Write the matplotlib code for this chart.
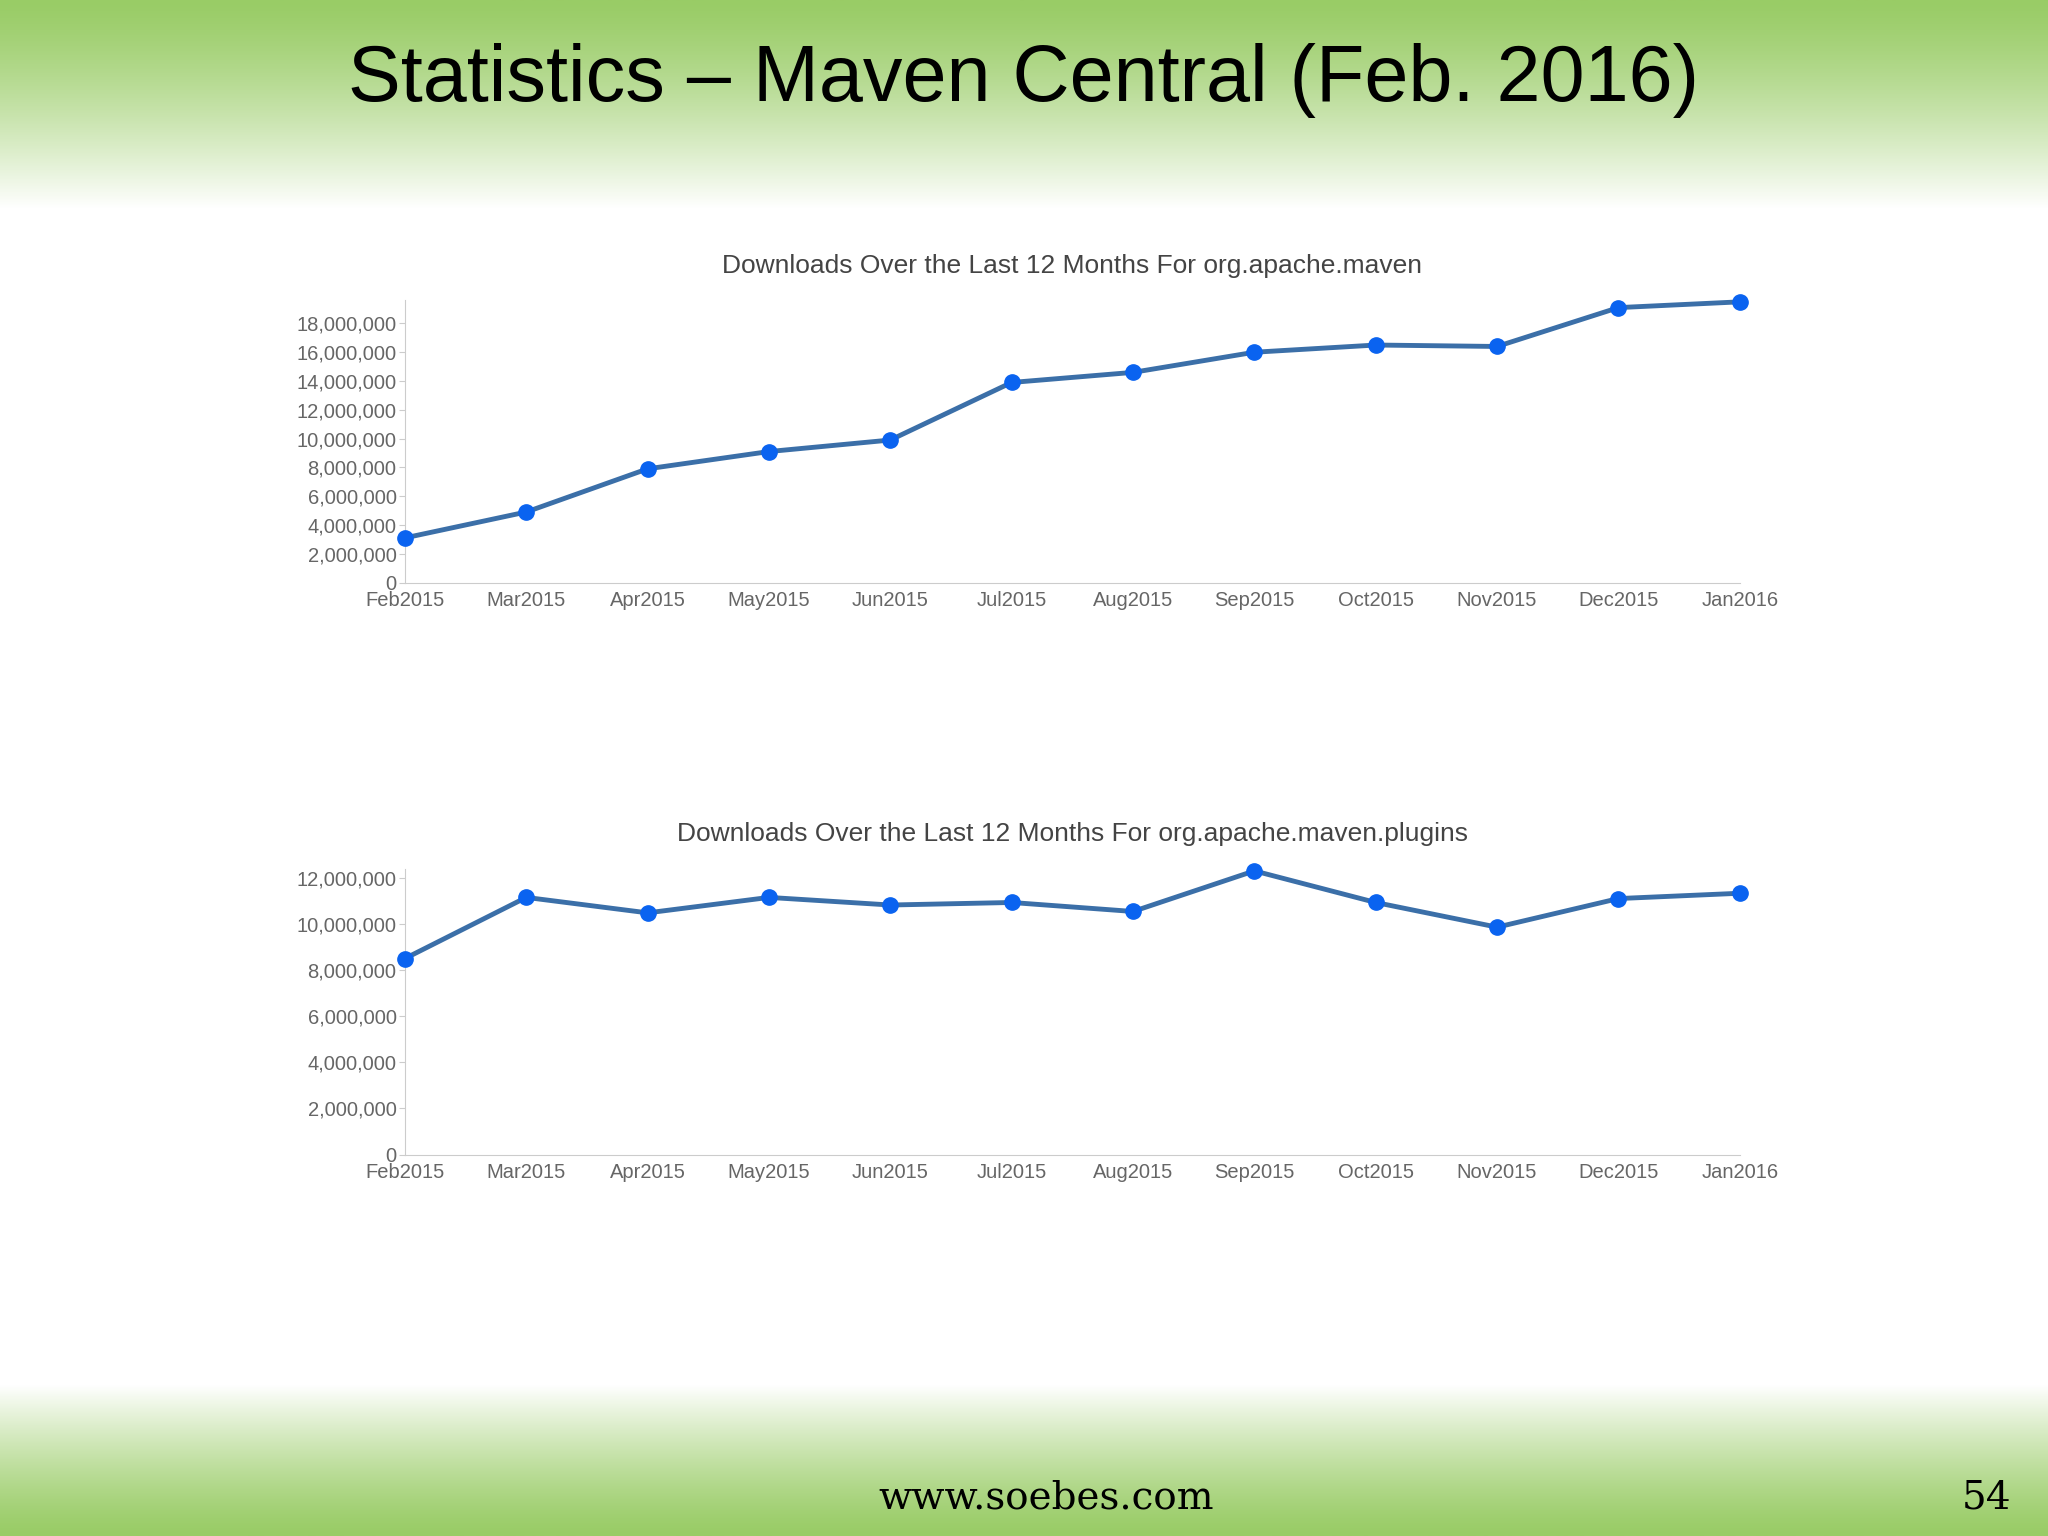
import numpy as np
from matplotlib import pyplot as plt
from matplotlib.ticker import FuncFormatter

months = ['Feb2015', 'Mar2015', 'Apr2015', 'May2015', 'Jun2015', 'Jul2015',
          'Aug2015', 'Sep2015', 'Oct2015', 'Nov2015', 'Dec2015', 'Jan2016']
maven = [3.1e6, 4.9e6, 7.9e6, 9.1e6, 9.9e6, 13.9e6,
         14.6e6, 16.0e6, 16.5e6, 16.4e6, 19.1e6, 19.5e6]
plugins = [8.5e6, 11.15e6, 10.48e6, 11.15e6, 10.82e6, 10.93e6,
           10.54e6, 12.3e6, 10.93e6, 9.86e6, 11.1e6, 11.33e6]

fig = plt.figure(figsize=(20.48, 15.36), dpi=100)

# background gradient bands
bg = fig.add_axes([0, 0, 1, 1], zorder=-1)
bg.axis('off')
h = 1176
grad = np.ones(h)
top = np.linspace(0, 1, 160)
grad[:160] = top ** 1.3
bot = np.linspace(1, 0, 116)
grad[h - 116:] = bot ** 1.3
green = np.array([0.60, 0.80, 0.40])
img = green[None, :] * (1 - grad[:, None]) + grad[:, None]
bg.imshow(img[:, None, :].repeat(2, axis=1), aspect='auto', extent=[0, 1, 0, 1])
bg.set_xlim(0, 1)
bg.set_ylim(0, 1)

fig.text(0.5, 1 - 62 / h, 'Statistics – Maven Central (Feb. 2016)',
         ha='center', va='center', fontsize=57, family='Liberation Sans')
fig.text(0.511, 1 - 1147 / h, 'www.soebes.com', ha='center', va='center',
         fontsize=28, family='DejaVu Serif')
fig.text(0.982, 1 - 1147 / h, '54', ha='right', va='center',
         fontsize=28, family='DejaVu Serif')

fmt = FuncFormatter(lambda v, p: f'{int(v):,}')


def draw(rect, values, ymax, step, title):
    ax = fig.add_axes(rect)
    x = np.arange(len(months))
    ax.plot(x, values, color='#3b6fa8', lw=3.5, zorder=2, clip_on=False)
    ax.plot(x, values, 'o', color='#0a63f0', ms=11, zorder=3, clip_on=False)
    ax.set_xlim(0, len(months) - 1)
    ax.set_ylim(0, ymax)
    ax.set_yticks(np.arange(0, ymax, step))
    ax.yaxis.set_major_formatter(fmt)
    ax.set_xticks(x)
    ax.set_xticklabels(months)
    for s in ['top', 'right']:
        ax.spines[s].set_visible(False)
    for s in ['left', 'bottom']:
        ax.spines[s].set_color('#cccccc')
    ax.tick_params(colors='#cccccc', labelcolor='#666666', labelsize=14.5,
                   length=4, pad=2)
    ax.tick_params(axis='x', length=0, pad=6)
    ax.set_facecolor('none')
    ax.set_title(title, fontsize=19, color='#444444', pad=20,
                 family='Liberation Sans')
    for lbl in ax.get_xticklabels() + ax.get_yticklabels():
        lbl.set_family('Liberation Sans')


draw([310 / 1568, 1 - 446 / h, 1022 / 1568, 216 / h], maven, 19.6e6, 2e6,
     'Downloads Over the Last 12 Months For org.apache.maven')
draw([310 / 1568, 1 - 884 / h, 1022 / 1568, 219 / h], plugins, 12.4e6, 2e6,
     'Downloads Over the Last 12 Months For org.apache.maven.plugins')

fig.savefig('out.png', dpi=100)
